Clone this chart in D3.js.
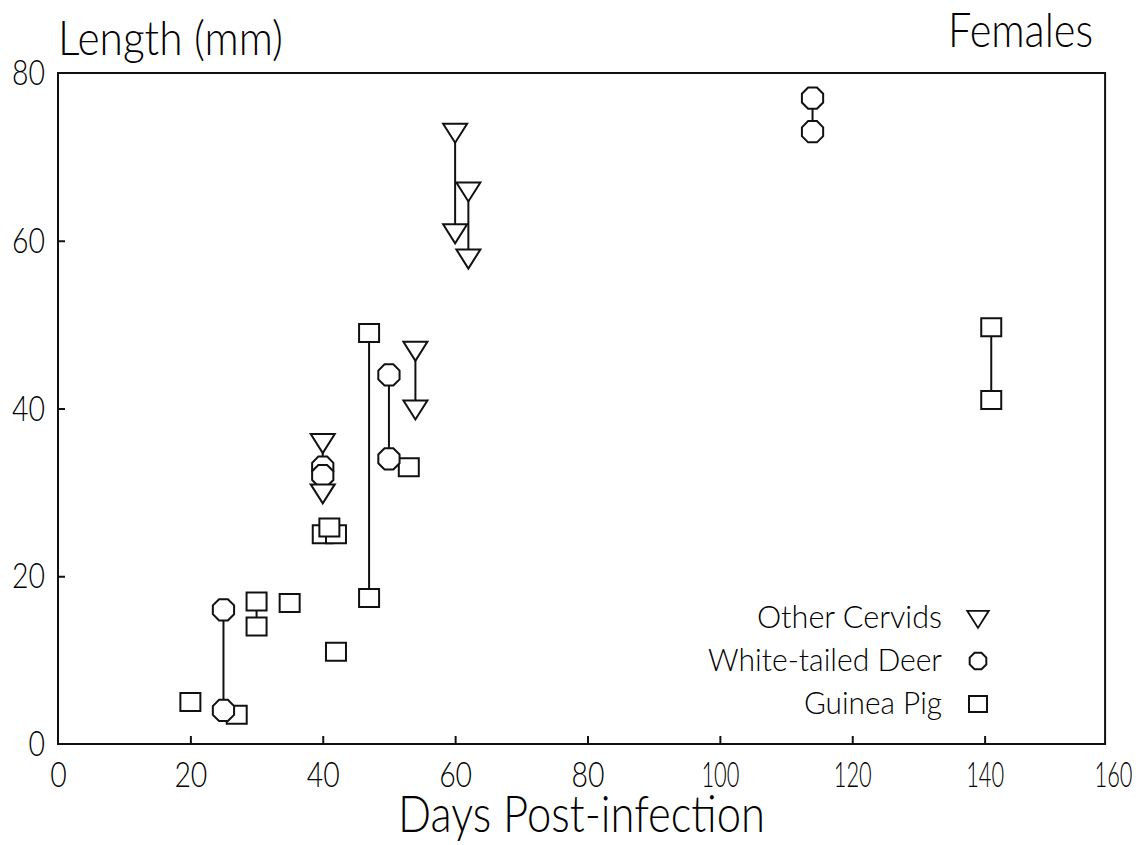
<!DOCTYPE html>
<html>
<head>
<meta charset="utf-8">
<script src="https://cdn.jsdelivr.net/npm/d3@7"></script>
<style>
  body { margin: 0; background: #fff; }
  svg text { font-family: Lato, "DejaVu Sans", sans-serif; font-weight: 300; fill: #000; }
</style>
</head>
<body>
<div id="chart"></div>
<script>
// values (days post-infection, length in mm)
var cervidDays   = [40, 40, 54, 54, 60, 60, 62, 62];
var cervidLength = [36, 30, 47, 40, 73, 61, 66, 58];
var cervidLinks  = [[0, 1], [2, 3], [4, 5], [6, 7]];

var deerDays   = [25, 25, 40, 40, 50, 50, 114, 114];
var deerLength = [16, 4, 33, 32, 44, 34, 77, 73];
var deerLinks  = [[0, 1], [4, 5], [6, 7]];

var pigDays   = [20, 27, 30, 30, 35, 40, 42, 41, 42, 47, 47, 53, 141, 141];
var pigLength = [5, 3.5, 17, 14, 16.8, 25, 25, 25.8, 11, 49, 17.4, 33, 49.7, 41];
var pigLinks  = [[2, 3], [9, 10], [12, 13]];

var xTicks = [0, 20, 40, 60, 80, 100, 120, 140, 160];
var yTicks = [0, 20, 40, 60, 80];
var legendNames = ["Other Cervids", "White-tailed Deer", "Guinea Pig"];

var W = 1138, H = 845;
var x = d3.scaleLinear().domain([0, 160]).range([58, 1117]);
var y = d3.scaleLinear().domain([0, 80]).range([744, 73]);
var xEnd = 158.2; // the frame stops a little short of 160

var svg = d3.select("#chart").append("svg")
    .attr("width", W)
    .attr("height", H);

function pts(days, len) {
    return days.map(function (d, i) { return { x: d, y: len[i] }; });
}
var cervids = pts(cervidDays, cervidLength);
var deer = pts(deerDays, deerLength);
var pigs = pts(pigDays, pigLength);

// marker shapes
function triPath() { return "M-12,-8L12,-8L0,11Z"; }
function octPath(r) {
    var p = d3.range(8).map(function (i) {
        var a = Math.PI / 8 + i * Math.PI / 4;
        return [r * Math.cos(a), r * Math.sin(a)];
    });
    return "M" + p.join("L") + "Z";
}
function sqPath() { return "M-10,-9L10,-9L10,9L-10,9Z"; }

// frame
svg.append("path")
    .attr("d", "M" + x(0) + "," + y(0) + "L" + x(0) + "," + y(80) +
               "L" + x(xEnd) + "," + y(80) + "L" + x(xEnd) + "," + y(0) + "Z")
    .attr("fill", "none")
    .attr("stroke", "#111")
    .attr("stroke-width", 2);

// axes
var gx = svg.append("g")
    .attr("transform", "translate(0," + y(0) + ")")
    .call(d3.axisBottom(x).tickValues(xTicks).tickSizeInner(-8).tickSizeOuter(0).tickPadding(17));
var gy = svg.append("g")
    .attr("transform", "translate(" + x(0) + ",0)")
    .call(d3.axisLeft(y).tickValues(yTicks).tickSizeInner(-7).tickSizeOuter(0).tickPadding(13));

[gx, gy].forEach(function (g) {
    g.select(".domain").remove();
    g.attr("font-family", null).attr("font-size", null);
    g.selectAll("line").attr("stroke", "#111").attr("stroke-width", 2);
    g.selectAll("text")
        .style("font-size", "36px")
        .attr("textLength", function (d) { return d >= 100 ? 38 : String(d).length * 16.5; })
        .attr("lengthAdjust", "spacingAndGlyphs");
});
gx.selectAll(".tick").filter(function (d) { return d === 0 || d === 160; }).select("line").remove();
gx.selectAll(".tick").filter(function (d) { return d === 160; }).select("text").attr("dx", -4);
gy.selectAll(".tick").filter(function (d) { return d === 0 || d === 80; }).select("line").remove();

// connecting lines
function links(data, pairs) {
    svg.append("g").selectAll("line")
        .data(pairs)
        .enter().append("line")
        .attr("x1", function (p) { return x(data[p[0]].x); })
        .attr("y1", function (p) { return y(data[p[0]].y); })
        .attr("x2", function (p) { return x(data[p[1]].x); })
        .attr("y2", function (p) { return y(data[p[1]].y); })
        .attr("stroke", "#111")
        .attr("stroke-width", 2);
}
links(cervids, cervidLinks);
links(deer, deerLinks);
links(pigs, pigLinks);

// markers
function markers(data, d) {
    svg.append("g").selectAll("path")
        .data(data)
        .enter().append("path")
        .attr("transform", function (p) { return "translate(" + x(p.x) + "," + y(p.y) + ")"; })
        .attr("d", d)
        .attr("fill", "#fff")
        .attr("stroke", "#111")
        .attr("stroke-width", 2);
}
markers(pigs, sqPath());
markers(deer, octPath(11.5));
markers(cervids, triPath());

// legend
var legendShapes = [triPath(), octPath(9), "M-9,-8L9,-8L9,8L-9,8Z"];
var legendWidths = [185, 234, 138];
var leg = svg.append("g");
legendNames.forEach(function (name, i) {
    var ly = 618 + i * 43;
    leg.append("text")
        .attr("x", 942)
        .attr("y", ly + 10)
        .attr("text-anchor", "end")
        .attr("textLength", legendWidths[i])
        .attr("lengthAdjust", "spacingAndGlyphs")
        .style("font-size", "31px")
        .text(name);
    leg.append("path")
        .attr("transform", "translate(978," + ly + ")" + (i === 0 ? " scale(0.9)" : ""))
        .attr("d", legendShapes[i])
        .attr("fill", "#fff")
        .attr("stroke", "#111")
        .attr("stroke-width", 2);
});

// titles
svg.append("text")
    .attr("x", 58).attr("y", 55)
    .attr("textLength", 225)
    .attr("lengthAdjust", "spacingAndGlyphs")
    .style("font-size", "48px")
    .text("Length (mm)");
svg.append("text")
    .attr("x", 948).attr("y", 47)
    .attr("textLength", 145)
    .attr("lengthAdjust", "spacingAndGlyphs")
    .style("font-size", "48px")
    .text("Females");
svg.append("text")
    .attr("x", 398).attr("y", 832)
    .attr("textLength", 367)
    .attr("lengthAdjust", "spacingAndGlyphs")
    .style("font-size", "52px")
    .text("Days Post-infection");
</script>
</body>
</html>
